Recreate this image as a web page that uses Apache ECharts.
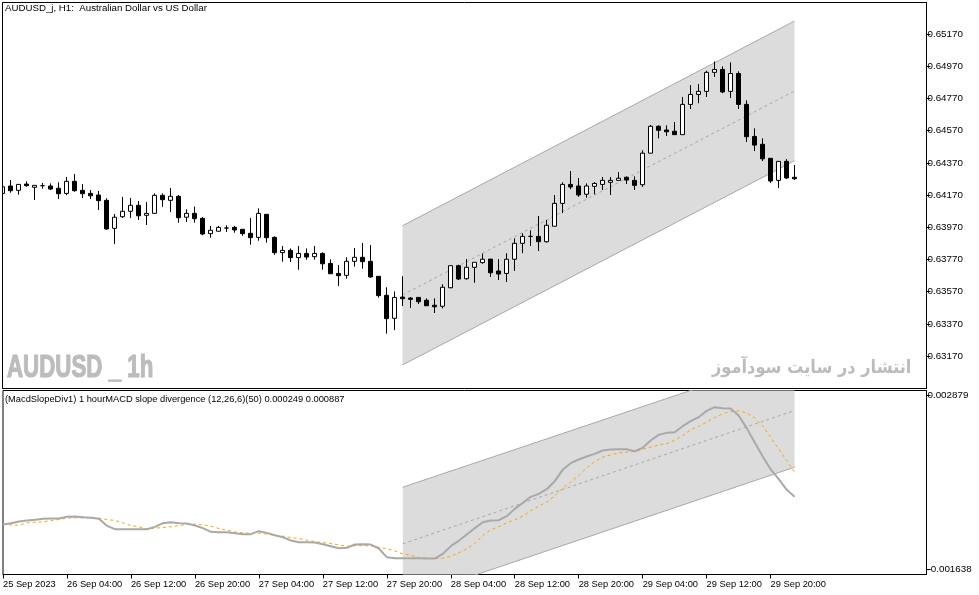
<!DOCTYPE html>
<html><head><meta charset="utf-8">
<style>html,body{margin:0;padding:0;background:#fff}#c{width:979px;height:595px}</style>
<script src="https://cdn.jsdelivr.net/npm/echarts@6/dist/echarts.min.js"></script>
</head><body><div id="c"></div>
<script>
const timeLabels = ['25 Sep 2023','26 Sep 04:00','26 Sep 12:00','26 Sep 20:00','27 Sep 04:00','27 Sep 12:00','27 Sep 20:00','28 Sep 04:00','28 Sep 12:00','28 Sep 20:00','29 Sep 04:00','29 Sep 12:00','29 Sep 20:00'];
const priceTicks = [0.65170,0.64970,0.64770,0.64570,0.64370,0.64170,0.63970,0.63770,0.63570,0.63370,0.63170];
const macdTicks = [0.002879,-0.001638];
const candleOpen = [0.64180,0.64226,0.64199,0.64238,0.64218,0.64228,0.64226,0.64212,0.64180,0.64255,0.64199,0.64180,0.64170,0.64137,0.63963,0.64035,0.64069,0.64106,0.64044,0.64056,0.64168,0.64137,0.64162,0.64032,0.64056,0.64025,0.63930,0.63945,0.63965,0.63969,0.63957,0.63932,0.63907,0.64050,0.63907,0.63812,0.63826,0.63781,0.63807,0.63787,0.63807,0.63745,0.63683,0.63671,0.63758,0.63783,0.63758,0.63665,0.63547,0.63404,0.63536,0.63530,0.63534,0.63516,0.63485,0.63479,0.63594,0.63731,0.63650,0.63721,0.63750,0.63772,0.63698,0.63683,0.63771,0.63870,0.63913,0.63913,0.63880,0.63976,0.64118,0.64236,0.64226,0.64175,0.64224,0.64236,0.64249,0.64261,0.64280,0.64261,0.64234,0.64430,0.64597,0.64574,0.64566,0.64545,0.64733,0.64795,0.64814,0.64932,0.64950,0.64814,0.64925,0.64733,0.64534,0.64485,0.64398,0.64261,0.64379,0.64280];
const candleClose = [0.64221,0.64197,0.64236,0.64228,0.64230,0.64228,0.64207,0.64178,0.64255,0.64197,0.64178,0.64165,0.64135,0.63959,0.64032,0.64069,0.64106,0.64041,0.64056,0.64168,0.64141,0.64162,0.64029,0.64056,0.64023,0.63928,0.63951,0.63969,0.63965,0.63953,0.63930,0.63905,0.64056,0.63905,0.63812,0.63826,0.63781,0.63807,0.63785,0.63807,0.63743,0.63681,0.63669,0.63758,0.63783,0.63756,0.63661,0.63545,0.63402,0.63534,0.63526,0.63522,0.63507,0.63482,0.63476,0.63597,0.63731,0.63648,0.63721,0.63752,0.63771,0.63687,0.63679,0.63771,0.63870,0.63913,0.63913,0.63880,0.63982,0.64118,0.64236,0.64220,0.64170,0.64226,0.64242,0.64261,0.64261,0.64274,0.64263,0.64230,0.64430,0.64597,0.64572,0.64563,0.64545,0.64733,0.64795,0.64814,0.64932,0.64950,0.64810,0.64925,0.64733,0.64532,0.64480,0.64395,0.64257,0.64379,0.64276,0.64271];
const candleLow = [0.64180,0.64184,0.64172,0.64221,0.64139,0.64209,0.64201,0.64145,0.64169,0.64190,0.64151,0.64145,0.64077,0.63954,0.63866,0.64027,0.64027,0.64015,0.63984,0.64056,0.64096,0.64064,0.63998,0.64002,0.63998,0.63920,0.63905,0.63945,0.63940,0.63936,0.63917,0.63861,0.63886,0.63874,0.63799,0.63756,0.63754,0.63706,0.63768,0.63768,0.63706,0.63681,0.63605,0.63650,0.63725,0.63712,0.63656,0.63532,0.63309,0.63331,0.63480,0.63468,0.63493,0.63482,0.63437,0.63466,0.63591,0.63642,0.63644,0.63625,0.63743,0.63661,0.63642,0.63630,0.63698,0.63809,0.63853,0.63822,0.63874,0.63976,0.64058,0.64206,0.64159,0.64153,0.64174,0.64201,0.64170,0.64261,0.64238,0.64201,0.64220,0.64430,0.64522,0.64537,0.64545,0.64545,0.64704,0.64740,0.64779,0.64903,0.64803,0.64773,0.64704,0.64499,0.64443,0.64381,0.64245,0.64213,0.64269,0.64263];
const candleHigh = [0.64221,0.64263,0.64236,0.64255,0.64230,0.64245,0.64242,0.64249,0.64282,0.64300,0.64238,0.64201,0.64195,0.64150,0.64052,0.64158,0.64151,0.64133,0.64126,0.64180,0.64180,0.64213,0.64170,0.64081,0.64098,0.64033,0.63978,0.63978,0.63982,0.63978,0.63957,0.64027,0.64087,0.64050,0.63913,0.63853,0.63838,0.63853,0.63838,0.63853,0.63814,0.63770,0.63735,0.63783,0.63841,0.63872,0.63859,0.63665,0.63597,0.63571,0.63665,0.63536,0.63534,0.63528,0.63528,0.63616,0.63731,0.63737,0.63772,0.63752,0.63806,0.63772,0.63772,0.63808,0.63901,0.63932,0.63951,0.64040,0.64015,0.64170,0.64249,0.64319,0.64276,0.64242,0.64250,0.64282,0.64282,0.64313,0.64286,0.64286,0.64448,0.64605,0.64603,0.64603,0.64624,0.64779,0.64853,0.64859,0.64942,0.65000,0.64969,0.64994,0.64938,0.64758,0.64584,0.64522,0.64398,0.64379,0.64393,0.64356];
const macdMain = [-470,-436,-392,-366,-349,-323,-315,-315,-271,-263,-280,-297,-323,-505,-591,-591,-591,-591,-591,-531,-436,-410,-436,-444,-496,-565,-661,-669,-669,-695,-721,-721,-643,-687,-747,-799,-886,-929,-929,-938,-981,-1033,-1085,-1076,-990,-981,-990,-1093,-1318,-1344,-1344,-1344,-1344,-1353,-1353,-1232,-1033,-894,-730,-565,-410,-366,-358,-254,-64,92,248,326,447,655,949,1122,1217,1295,1364,1451,1477,1485,1485,1433,1520,1710,1857,1909,1927,2082,2212,2316,2480,2576,2550,2541,2359,2039,1667,1304,966,715,438,249];
const macdSignal = [-470,-479,-488,-427,-410,-401,-366,-341,-306,-297,-297,-297,-306,-341,-366,-427,-496,-531,-583,-565,-548,-531,-496,-470,-462,-479,-514,-574,-618,-661,-687,-695,-695,-721,-747,-773,-808,-834,-877,-912,-938,-964,-998,-1033,-1024,-1016,-1024,-1059,-1102,-1154,-1232,-1266,-1327,-1344,-1353,-1344,-1301,-1206,-1102,-964,-756,-609,-531,-427,-349,-254,-116,6,110,274,473,629,802,1001,1165,1278,1338,1390,1407,1425,1485,1537,1598,1624,1719,1840,1987,2082,2186,2307,2403,2463,2480,2428,2299,2091,1797,1494,1191,887];
const channelBars = [50,99];
const priceUpper = [0.63979,0.65251];
const priceMiddle = [0.63549,0.64816];
const priceLower = [0.63114,0.64383];
const macdUpper = [498,3917];
const macdMiddle = [-971,2489];
const macdLower = [-2417,1018];
const chartTitle = 'AUDUSD_j, H1:  Australian Dollar vs US Dollar';
const subTitle = '(MacdSlopeDiv1) 1 hourMACD slope divergence (12,26,6)(50) 0.000249 0.000887';
const markLeft = 'AUDUSD _ 1h';
const markRight = 'انتشار در سایت سودآموز';

const F = '"Liberation Sans", sans-serif';
const FS = 9.3;
const scaleMacd = a => a.map(v => v / 1e6);
const pairs = (xs, ys) => xs.map((x, i) => [x, ys[i]]);
function band(upper, lower, xi, yi) {
  return {
    type: 'custom', xAxisIndex: xi, yAxisIndex: yi, clip: true, silent: true, z: 1,
    data: [[channelBars[0], upper[0]]],
    renderItem: (p, api) => ({
      type: 'polygon',
      shape: { points: [
        api.coord([channelBars[0], upper[0]]), api.coord([channelBars[1], upper[1]]),
        api.coord([channelBars[1], lower[1]]), api.coord([channelBars[0], lower[0]])
      ]},
      style: { fill: '#dcdcdc' }
    })
  };
}
function edge(xs, ys, xi, yi, dashed) {
  return {
    type: 'line', xAxisIndex: xi, yAxisIndex: yi, data: pairs(xs, ys), showSymbol: false, silent: true, z: 2,
    lineStyle: { color: '#a8a8a8', width: 1, type: dashed ? [3, 3] : 'solid' }
  };
}
const xIdx = candleOpen.map((_, i) => i);
const timeTicks = timeLabels.map((_, i) => i * 8);
const xBase = { type: 'value', min: 0, max: 115.5, splitLine: { show: false } };
const chart = echarts.init(document.getElementById('c'), null, { renderer: 'canvas' });
chart.setOption({
  animation: false,
  backgroundColor: '#fff',
  grid: [
    { left: 2.5, top: 2.5, width: 924, height: 386, show: true, borderColor: '#000', borderWidth: 1, backgroundColor: '#fff' },
    { left: 2.5, top: 390.5, width: 924, height: 184, show: true, borderColor: '#000', borderWidth: 1, backgroundColor: '#fff' }
  ],
  xAxis: [
    Object.assign({ gridIndex: 0, show: false }, xBase),
    Object.assign({ gridIndex: 1 }, xBase, {
      position: 'bottom',
      axisLine: { show: true, onZero: false, lineStyle: { color: '#000' } },
      axisTick: { show: true, length: 4, customValues: timeTicks, lineStyle: { color: '#000' } },
      axisLabel: { show: true, customValues: timeTicks, margin: 5, align: 'left', fontFamily: F, fontSize: FS, color: '#000',
        hideOverlap: false, formatter: v => timeLabels[Math.round(v / 8)] || '' }
    })
  ],
  yAxis: [
    { type: 'value', gridIndex: 0, position: 'right', scale: true, min: 0.62968, max: 0.65366, splitLine: { show: false },
      axisLine: { show: true, onZero: false, lineStyle: { color: '#000' } },
      axisTick: { show: true, length: 4, customValues: priceTicks, lineStyle: { color: '#000' } },
      axisLabel: { customValues: priceTicks, margin: 1, fontFamily: F, fontSize: 9.8, color: '#000', formatter: v => v.toFixed(5) } },
    { type: 'value', gridIndex: 1, position: 'right', scale: true, min: -0.001768, max: 0.003009, splitLine: { show: false },
      axisLine: { show: true, onZero: false, lineStyle: { color: '#000' } },
      axisTick: { show: true, length: 4, customValues: macdTicks, lineStyle: { color: '#000' } },
      axisLabel: { customValues: macdTicks, margin: 1, fontFamily: F, fontSize: 9.8, color: '#000', formatter: v => v.toFixed(6) } }
  ],
  series: [
    band(priceUpper, priceLower, 0, 0),
    edge(channelBars, priceUpper, 0, 0),
    edge(channelBars, priceLower, 0, 0),
    edge(channelBars, priceMiddle, 0, 0, true),
    { type: 'candlestick', xAxisIndex: 0, yAxisIndex: 0, z: 5, barWidth: 4, silent: true, clip: true,
      itemStyle: { color: '#fff', color0: '#000', borderColor: '#000', borderColor0: '#000', borderColorDoji: '#000', borderWidth: 1 },
      data: xIdx.map(i => [i, candleOpen[i], candleClose[i], candleLow[i], candleHigh[i]]) },
    band(scaleMacd(macdUpper), scaleMacd(macdLower), 1, 1),
    edge(channelBars, scaleMacd(macdUpper), 1, 1),
    edge(channelBars, scaleMacd(macdLower), 1, 1),
    edge(channelBars, scaleMacd(macdMiddle), 1, 1, true),
    { type: 'line', xAxisIndex: 1, yAxisIndex: 1, z: 5, showSymbol: false, silent: true,
      data: pairs(xIdx, scaleMacd(macdSignal)), lineStyle: { color: '#ffa500', width: 1, type: [3, 3] } },
    { type: 'line', xAxisIndex: 1, yAxisIndex: 1, z: 6, showSymbol: false, silent: true,
      data: pairs(xIdx, scaleMacd(macdMain)), lineStyle: { color: '#a9a9a9', width: 2 } }
  ],
  graphic: [
    { type: 'rect', z: 19, silent: true, shape: { x: 0, y: 0, width: 2, height: 595 }, style: { fill: '#fff' } },
    { type: 'line', z: 19, silent: true, shape: { x1: 2.5, y1: 2.5, x2: 2.5, y2: 388.5 }, style: { stroke: '#000', lineWidth: 1 } },
    { type: 'text', left: 5, top: 3.5, z: 20, style: { text: chartTitle, font: '9.7px ' + F, fill: '#000' } },
    { type: 'text', left: 5, top: 394.5, z: 20, style: { text: subTitle, font: FS + 'px ' + F, fill: '#000' } },
    { type: 'text', x: 7, y: 353, scaleX: 0.72, z: 20, style: { text: markLeft, font: 'bold 31px ' + F, fill: '#bcbcbc', stroke: '#bcbcbc', lineWidth: 1.2 } },
    { type: 'text', x: 712, y: 359, scaleX: 0.9, z: 20, style: { text: markRight, font: 'bold 18px "DejaVu Sans", sans-serif', fill: '#bcbcbc' } }
  ]
});
</script></body></html>
